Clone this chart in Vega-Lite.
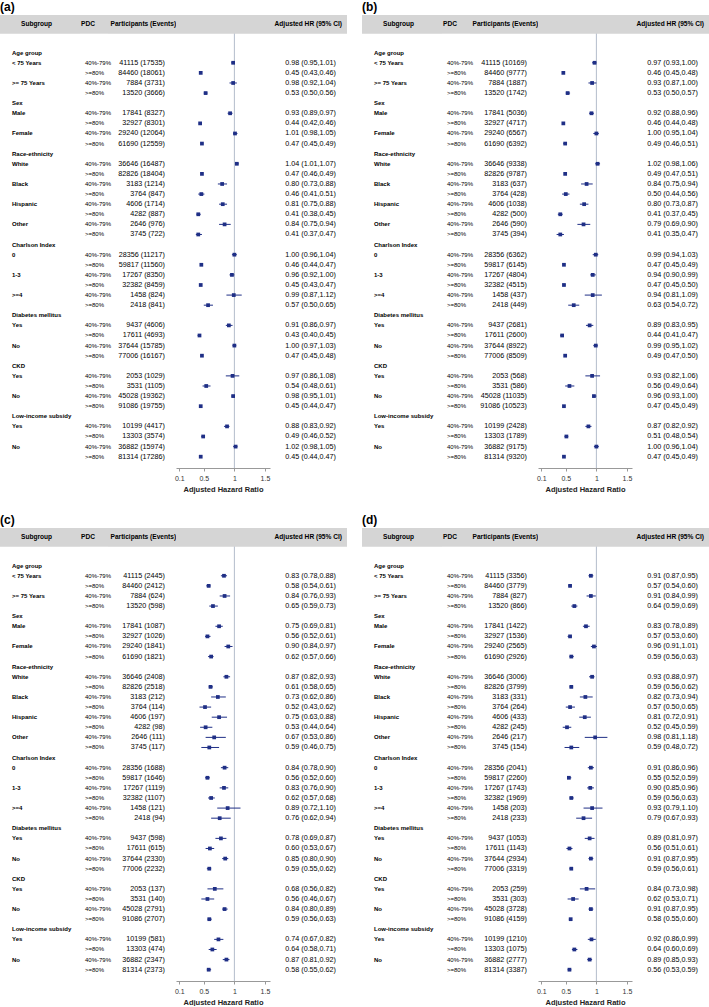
{
"$schema":"https://vega.github.io/schema/vega-lite/v6.json",
"padding":0,
"background":"white",
"spacing":20,
"datasets":{
"one":[{}],
"cats":[{"row":1,"label":"Age group"},{"row":6,"label":"Sex"},{"row":11,"label":"Race-ethnicity"},{"row":20,"label":"Charlson Index"},{"row":27,"label":"Diabetes mellitus"},{"row":32,"label":"CKD"},{"row":37,"label":"Low-income subsidy"}],
"lab":[
{"row":2,"sub":"< 75 Years","pdc":"40%-79%"},{"row":3,"sub":"< 75 Years","pdc":">=80%"},
{"row":4,"sub":">= 75 Years","pdc":"40%-79%"},{"row":5,"sub":">= 75 Years","pdc":">=80%"},
{"row":7,"sub":"Male","pdc":"40%-79%"},{"row":8,"sub":"Male","pdc":">=80%"},
{"row":9,"sub":"Female","pdc":"40%-79%"},{"row":10,"sub":"Female","pdc":">=80%"},
{"row":12,"sub":"White","pdc":"40%-79%"},{"row":13,"sub":"White","pdc":">=80%"},
{"row":14,"sub":"Black","pdc":"40%-79%"},{"row":15,"sub":"Black","pdc":">=80%"},
{"row":16,"sub":"Hispanic","pdc":"40%-79%"},{"row":17,"sub":"Hispanic","pdc":">=80%"},
{"row":18,"sub":"Other","pdc":"40%-79%"},{"row":19,"sub":"Other","pdc":">=80%"},
{"row":21,"sub":"0","pdc":"40%-79%"},{"row":22,"sub":"0","pdc":">=80%"},
{"row":23,"sub":"1-3","pdc":"40%-79%"},{"row":24,"sub":"1-3","pdc":">=80%"},
{"row":25,"sub":">=4","pdc":"40%-79%"},{"row":26,"sub":">=4","pdc":">=80%"},
{"row":28,"sub":"Yes","pdc":"40%-79%"},{"row":29,"sub":"Yes","pdc":">=80%"},
{"row":30,"sub":"No","pdc":"40%-79%"},{"row":31,"sub":"No","pdc":">=80%"},
{"row":33,"sub":"Yes","pdc":"40%-79%"},{"row":34,"sub":"Yes","pdc":">=80%"},
{"row":35,"sub":"No","pdc":"40%-79%"},{"row":36,"sub":"No","pdc":">=80%"},
{"row":38,"sub":"Yes","pdc":"40%-79%"},{"row":39,"sub":"Yes","pdc":">=80%"},
{"row":40,"sub":"No","pdc":"40%-79%"},{"row":41,"sub":"No","pdc":">=80%"}],
"a":[
{"row":2,"n":"41115 (17535)","hr":0.98,"lo":0.95,"hi":1.01,"ci":"0.98 (0.95,1.01)"},
{"row":3,"n":"84460 (18061)","hr":0.45,"lo":0.43,"hi":0.46,"ci":"0.45 (0.43,0.46)"},
{"row":4,"n":"7884 (3731)","hr":0.98,"lo":0.92,"hi":1.04,"ci":"0.98 (0.92,1.04)"},
{"row":5,"n":"13520 (3666)","hr":0.53,"lo":0.50,"hi":0.56,"ci":"0.53 (0.50,0.56)"},
{"row":7,"n":"17841 (8327)","hr":0.93,"lo":0.89,"hi":0.97,"ci":"0.93 (0.89,0.97)"},
{"row":8,"n":"32927 (8301)","hr":0.44,"lo":0.42,"hi":0.46,"ci":"0.44 (0.42,0.46)"},
{"row":9,"n":"29240 (12064)","hr":1.01,"lo":0.98,"hi":1.05,"ci":"1.01 (0.98,1.05)"},
{"row":10,"n":"61690 (12559)","hr":0.47,"lo":0.45,"hi":0.49,"ci":"0.47 (0.45,0.49)"},
{"row":12,"n":"36646 (16487)","hr":1.04,"lo":1.01,"hi":1.07,"ci":"1.04 (1.01,1.07)"},
{"row":13,"n":"82826 (18404)","hr":0.47,"lo":0.46,"hi":0.49,"ci":"0.47 (0.46,0.49)"},
{"row":14,"n":"3183 (1214)","hr":0.80,"lo":0.73,"hi":0.88,"ci":"0.80 (0.73,0.88)"},
{"row":15,"n":"3764 (847)","hr":0.46,"lo":0.41,"hi":0.51,"ci":"0.46 (0.41,0.51)"},
{"row":16,"n":"4606 (1714)","hr":0.81,"lo":0.75,"hi":0.88,"ci":"0.81 (0.75,0.88)"},
{"row":17,"n":"4282 (887)","hr":0.41,"lo":0.38,"hi":0.45,"ci":"0.41 (0.38,0.45)"},
{"row":18,"n":"2646 (976)","hr":0.84,"lo":0.75,"hi":0.94,"ci":"0.84 (0.75,0.94)"},
{"row":19,"n":"3745 (722)","hr":0.41,"lo":0.37,"hi":0.47,"ci":"0.41 (0.37,0.47)"},
{"row":21,"n":"28356 (11217)","hr":1.00,"lo":0.96,"hi":1.04,"ci":"1.00 (0.96,1.04)"},
{"row":22,"n":"59817 (11560)","hr":0.46,"lo":0.44,"hi":0.47,"ci":"0.46 (0.44,0.47)"},
{"row":23,"n":"17267 (8350)","hr":0.96,"lo":0.92,"hi":1.00,"ci":"0.96 (0.92,1.00)"},
{"row":24,"n":"32382 (8459)","hr":0.45,"lo":0.43,"hi":0.47,"ci":"0.45 (0.43,0.47)"},
{"row":25,"n":"1458 (824)","hr":0.99,"lo":0.87,"hi":1.12,"ci":"0.99 (0.87,1.12)"},
{"row":26,"n":"2418 (841)","hr":0.57,"lo":0.50,"hi":0.65,"ci":"0.57 (0.50,0.65)"},
{"row":28,"n":"9437 (4606)","hr":0.91,"lo":0.86,"hi":0.97,"ci":"0.91 (0.86,0.97)"},
{"row":29,"n":"17611 (4693)","hr":0.43,"lo":0.40,"hi":0.45,"ci":"0.43 (0.40,0.45)"},
{"row":30,"n":"37644 (15785)","hr":1.00,"lo":0.97,"hi":1.03,"ci":"1.00 (0.97,1.03)"},
{"row":31,"n":"77006 (16167)","hr":0.47,"lo":0.45,"hi":0.48,"ci":"0.47 (0.45,0.48)"},
{"row":33,"n":"2053 (1029)","hr":0.97,"lo":0.86,"hi":1.08,"ci":"0.97 (0.86,1.08)"},
{"row":34,"n":"3531 (1105)","hr":0.54,"lo":0.48,"hi":0.61,"ci":"0.54 (0.48,0.61)"},
{"row":35,"n":"45028 (19362)","hr":0.98,"lo":0.95,"hi":1.01,"ci":"0.98 (0.95,1.01)"},
{"row":36,"n":"91086 (19755)","hr":0.45,"lo":0.44,"hi":0.47,"ci":"0.45 (0.44,0.47)"},
{"row":38,"n":"10199 (4417)","hr":0.88,"lo":0.83,"hi":0.92,"ci":"0.88 (0.83,0.92)"},
{"row":39,"n":"13303 (3574)","hr":0.49,"lo":0.46,"hi":0.52,"ci":"0.49 (0.46,0.52)"},
{"row":40,"n":"36882 (15974)","hr":1.02,"lo":0.98,"hi":1.05,"ci":"1.02 (0.98,1.05)"},
{"row":41,"n":"81314 (17286)","hr":0.45,"lo":0.44,"hi":0.47,"ci":"0.45 (0.44,0.47)"}],
"b":[
{"row":2,"n":"41115 (10169)","hr":0.97,"lo":0.93,"hi":1.00,"ci":"0.97 (0.93,1.00)"},
{"row":3,"n":"84460 (9777)","hr":0.46,"lo":0.45,"hi":0.48,"ci":"0.46 (0.45,0.48)"},
{"row":4,"n":"7884 (1887)","hr":0.93,"lo":0.87,"hi":1.00,"ci":"0.93 (0.87,1.00)"},
{"row":5,"n":"13520 (1742)","hr":0.53,"lo":0.50,"hi":0.57,"ci":"0.53 (0.50,0.57)"},
{"row":7,"n":"17841 (5036)","hr":0.92,"lo":0.88,"hi":0.96,"ci":"0.92 (0.88,0.96)"},
{"row":8,"n":"32927 (4717)","hr":0.46,"lo":0.44,"hi":0.48,"ci":"0.46 (0.44,0.48)"},
{"row":9,"n":"29240 (6567)","hr":1.00,"lo":0.95,"hi":1.04,"ci":"1.00 (0.95,1.04)"},
{"row":10,"n":"61690 (6392)","hr":0.49,"lo":0.46,"hi":0.51,"ci":"0.49 (0.46,0.51)"},
{"row":12,"n":"36646 (9338)","hr":1.02,"lo":0.98,"hi":1.06,"ci":"1.02 (0.98,1.06)"},
{"row":13,"n":"82826 (9787)","hr":0.49,"lo":0.47,"hi":0.51,"ci":"0.49 (0.47,0.51)"},
{"row":14,"n":"3183 (637)","hr":0.84,"lo":0.75,"hi":0.94,"ci":"0.84 (0.75,0.94)"},
{"row":15,"n":"3764 (428)","hr":0.50,"lo":0.44,"hi":0.56,"ci":"0.50 (0.44,0.56)"},
{"row":16,"n":"4606 (1038)","hr":0.80,"lo":0.73,"hi":0.87,"ci":"0.80 (0.73,0.87)"},
{"row":17,"n":"4282 (500)","hr":0.41,"lo":0.37,"hi":0.45,"ci":"0.41 (0.37,0.45)"},
{"row":18,"n":"2646 (590)","hr":0.79,"lo":0.69,"hi":0.90,"ci":"0.79 (0.69,0.90)"},
{"row":19,"n":"3745 (394)","hr":0.41,"lo":0.35,"hi":0.47,"ci":"0.41 (0.35,0.47)"},
{"row":21,"n":"28356 (6362)","hr":0.99,"lo":0.94,"hi":1.03,"ci":"0.99 (0.94,1.03)"},
{"row":22,"n":"59817 (6145)","hr":0.47,"lo":0.45,"hi":0.49,"ci":"0.47 (0.45,0.49)"},
{"row":23,"n":"17267 (4804)","hr":0.94,"lo":0.90,"hi":0.99,"ci":"0.94 (0.90,0.99)"},
{"row":24,"n":"32382 (4515)","hr":0.47,"lo":0.45,"hi":0.50,"ci":"0.47 (0.45,0.50)"},
{"row":25,"n":"1458 (437)","hr":0.94,"lo":0.81,"hi":1.09,"ci":"0.94 (0.81,1.09)"},
{"row":26,"n":"2418 (449)","hr":0.63,"lo":0.54,"hi":0.72,"ci":"0.63 (0.54,0.72)"},
{"row":28,"n":"9437 (2681)","hr":0.89,"lo":0.83,"hi":0.95,"ci":"0.89 (0.83,0.95)"},
{"row":29,"n":"17611 (2600)","hr":0.44,"lo":0.41,"hi":0.47,"ci":"0.44 (0.41,0.47)"},
{"row":30,"n":"37644 (8922)","hr":0.99,"lo":0.95,"hi":1.02,"ci":"0.99 (0.95,1.02)"},
{"row":31,"n":"77006 (8509)","hr":0.49,"lo":0.47,"hi":0.50,"ci":"0.49 (0.47,0.50)"},
{"row":33,"n":"2053 (568)","hr":0.93,"lo":0.82,"hi":1.06,"ci":"0.93 (0.82,1.06)"},
{"row":34,"n":"3531 (586)","hr":0.56,"lo":0.49,"hi":0.64,"ci":"0.56 (0.49,0.64)"},
{"row":35,"n":"45028 (11035)","hr":0.96,"lo":0.93,"hi":1.00,"ci":"0.96 (0.93,1.00)"},
{"row":36,"n":"91086 (10523)","hr":0.47,"lo":0.45,"hi":0.49,"ci":"0.47 (0.45,0.49)"},
{"row":38,"n":"10199 (2428)","hr":0.87,"lo":0.82,"hi":0.92,"ci":"0.87 (0.82,0.92)"},
{"row":39,"n":"13303 (1789)","hr":0.51,"lo":0.48,"hi":0.54,"ci":"0.51 (0.48,0.54)"},
{"row":40,"n":"36882 (9175)","hr":1.00,"lo":0.96,"hi":1.04,"ci":"1.00 (0.96,1.04)"},
{"row":41,"n":"81314 (9320)","hr":0.47,"lo":0.45,"hi":0.49,"ci":"0.47 (0.45,0.49)"}],
"c":[
{"row":2,"n":"41115 (2445)","hr":0.83,"lo":0.78,"hi":0.88,"ci":"0.83 (0.78,0.88)"},
{"row":3,"n":"84460 (2412)","hr":0.58,"lo":0.54,"hi":0.61,"ci":"0.58 (0.54,0.61)"},
{"row":4,"n":"7884 (624)","hr":0.84,"lo":0.76,"hi":0.93,"ci":"0.84 (0.76,0.93)"},
{"row":5,"n":"13520 (598)","hr":0.65,"lo":0.59,"hi":0.73,"ci":"0.65 (0.59,0.73)"},
{"row":7,"n":"17841 (1087)","hr":0.75,"lo":0.69,"hi":0.81,"ci":"0.75 (0.69,0.81)"},
{"row":8,"n":"32927 (1026)","hr":0.56,"lo":0.52,"hi":0.61,"ci":"0.56 (0.52,0.61)"},
{"row":9,"n":"29240 (1841)","hr":0.90,"lo":0.84,"hi":0.97,"ci":"0.90 (0.84,0.97)"},
{"row":10,"n":"61690 (1821)","hr":0.62,"lo":0.57,"hi":0.66,"ci":"0.62 (0.57,0.66)"},
{"row":12,"n":"36646 (2408)","hr":0.87,"lo":0.82,"hi":0.93,"ci":"0.87 (0.82,0.93)"},
{"row":13,"n":"82826 (2518)","hr":0.61,"lo":0.58,"hi":0.65,"ci":"0.61 (0.58,0.65)"},
{"row":14,"n":"3183 (212)","hr":0.73,"lo":0.62,"hi":0.86,"ci":"0.73 (0.62,0.86)"},
{"row":15,"n":"3764 (114)","hr":0.52,"lo":0.43,"hi":0.62,"ci":"0.52 (0.43,0.62)"},
{"row":16,"n":"4606 (197)","hr":0.75,"lo":0.63,"hi":0.88,"ci":"0.75 (0.63,0.88)"},
{"row":17,"n":"4282 (98)","hr":0.53,"lo":0.44,"hi":0.64,"ci":"0.53 (0.44,0.64)"},
{"row":18,"n":"2646 (111)","hr":0.67,"lo":0.53,"hi":0.86,"ci":"0.67 (0.53,0.86)"},
{"row":19,"n":"3745 (117)","hr":0.59,"lo":0.46,"hi":0.75,"ci":"0.59 (0.46,0.75)"},
{"row":21,"n":"28356 (1688)","hr":0.84,"lo":0.78,"hi":0.90,"ci":"0.84 (0.78,0.90)"},
{"row":22,"n":"59817 (1646)","hr":0.56,"lo":0.52,"hi":0.60,"ci":"0.56 (0.52,0.60)"},
{"row":23,"n":"17267 (1119)","hr":0.83,"lo":0.76,"hi":0.90,"ci":"0.83 (0.76,0.90)"},
{"row":24,"n":"32382 (1107)","hr":0.62,"lo":0.57,"hi":0.68,"ci":"0.62 (0.57,0.68)"},
{"row":25,"n":"1458 (121)","hr":0.89,"lo":0.72,"hi":1.10,"ci":"0.89 (0.72,1.10)"},
{"row":26,"n":"2418 (94)","hr":0.76,"lo":0.62,"hi":0.94,"ci":"0.76 (0.62,0.94)"},
{"row":28,"n":"9437 (598)","hr":0.78,"lo":0.69,"hi":0.87,"ci":"0.78 (0.69,0.87)"},
{"row":29,"n":"17611 (615)","hr":0.60,"lo":0.53,"hi":0.67,"ci":"0.60 (0.53,0.67)"},
{"row":30,"n":"37644 (2330)","hr":0.85,"lo":0.80,"hi":0.90,"ci":"0.85 (0.80,0.90)"},
{"row":31,"n":"77006 (2232)","hr":0.59,"lo":0.55,"hi":0.62,"ci":"0.59 (0.55,0.62)"},
{"row":33,"n":"2053 (137)","hr":0.68,"lo":0.56,"hi":0.82,"ci":"0.68 (0.56,0.82)"},
{"row":34,"n":"3531 (140)","hr":0.56,"lo":0.46,"hi":0.67,"ci":"0.56 (0.46,0.67)"},
{"row":35,"n":"45028 (2791)","hr":0.84,"lo":0.80,"hi":0.89,"ci":"0.84 (0.80,0.89)"},
{"row":36,"n":"91086 (2707)","hr":0.59,"lo":0.56,"hi":0.63,"ci":"0.59 (0.56,0.63)"},
{"row":38,"n":"10199 (581)","hr":0.74,"lo":0.67,"hi":0.82,"ci":"0.74 (0.67,0.82)"},
{"row":39,"n":"13303 (474)","hr":0.64,"lo":0.58,"hi":0.71,"ci":"0.64 (0.58,0.71)"},
{"row":40,"n":"36882 (2347)","hr":0.87,"lo":0.81,"hi":0.92,"ci":"0.87 (0.81,0.92)"},
{"row":41,"n":"81314 (2373)","hr":0.58,"lo":0.55,"hi":0.62,"ci":"0.58 (0.55,0.62)"}],
"d":[
{"row":2,"n":"41115 (3356)","hr":0.91,"lo":0.87,"hi":0.95,"ci":"0.91 (0.87,0.95)"},
{"row":3,"n":"84460 (3779)","hr":0.57,"lo":0.54,"hi":0.60,"ci":"0.57 (0.54,0.60)"},
{"row":4,"n":"7884 (827)","hr":0.91,"lo":0.84,"hi":0.99,"ci":"0.91 (0.84,0.99)"},
{"row":5,"n":"13520 (866)","hr":0.64,"lo":0.59,"hi":0.69,"ci":"0.64 (0.59,0.69)"},
{"row":7,"n":"17841 (1422)","hr":0.83,"lo":0.78,"hi":0.89,"ci":"0.83 (0.78,0.89)"},
{"row":8,"n":"32927 (1536)","hr":0.57,"lo":0.53,"hi":0.60,"ci":"0.57 (0.53,0.60)"},
{"row":9,"n":"29240 (2565)","hr":0.96,"lo":0.91,"hi":1.01,"ci":"0.96 (0.91,1.01)"},
{"row":10,"n":"61690 (2926)","hr":0.59,"lo":0.56,"hi":0.63,"ci":"0.59 (0.56,0.63)"},
{"row":12,"n":"36646 (3006)","hr":0.93,"lo":0.88,"hi":0.97,"ci":"0.93 (0.88,0.97)"},
{"row":13,"n":"82826 (3799)","hr":0.59,"lo":0.56,"hi":0.62,"ci":"0.59 (0.56,0.62)"},
{"row":14,"n":"3183 (331)","hr":0.82,"lo":0.73,"hi":0.94,"ci":"0.82 (0.73,0.94)"},
{"row":15,"n":"3764 (264)","hr":0.57,"lo":0.50,"hi":0.65,"ci":"0.57 (0.50,0.65)"},
{"row":16,"n":"4606 (433)","hr":0.81,"lo":0.72,"hi":0.91,"ci":"0.81 (0.72,0.91)"},
{"row":17,"n":"4282 (245)","hr":0.52,"lo":0.45,"hi":0.59,"ci":"0.52 (0.45,0.59)"},
{"row":18,"n":"2646 (217)","hr":0.98,"lo":0.81,"hi":1.18,"ci":"0.98 (0.81,1.18)"},
{"row":19,"n":"3745 (154)","hr":0.59,"lo":0.48,"hi":0.72,"ci":"0.59 (0.48,0.72)"},
{"row":21,"n":"28356 (2041)","hr":0.91,"lo":0.86,"hi":0.96,"ci":"0.91 (0.86,0.96)"},
{"row":22,"n":"59817 (2260)","hr":0.55,"lo":0.52,"hi":0.59,"ci":"0.55 (0.52,0.59)"},
{"row":23,"n":"17267 (1743)","hr":0.90,"lo":0.85,"hi":0.96,"ci":"0.90 (0.85,0.96)"},
{"row":24,"n":"32382 (1969)","hr":0.59,"lo":0.56,"hi":0.63,"ci":"0.59 (0.56,0.63)"},
{"row":25,"n":"1458 (203)","hr":0.93,"lo":0.79,"hi":1.10,"ci":"0.93 (0.79,1.10)"},
{"row":26,"n":"2418 (233)","hr":0.79,"lo":0.67,"hi":0.93,"ci":"0.79 (0.67,0.93)"},
{"row":28,"n":"9437 (1053)","hr":0.89,"lo":0.81,"hi":0.97,"ci":"0.89 (0.81,0.97)"},
{"row":29,"n":"17611 (1143)","hr":0.56,"lo":0.51,"hi":0.61,"ci":"0.56 (0.51,0.61)"},
{"row":30,"n":"37644 (2934)","hr":0.91,"lo":0.87,"hi":0.95,"ci":"0.91 (0.87,0.95)"},
{"row":31,"n":"77006 (3319)","hr":0.59,"lo":0.56,"hi":0.61,"ci":"0.59 (0.56,0.61)"},
{"row":33,"n":"2053 (259)","hr":0.84,"lo":0.73,"hi":0.98,"ci":"0.84 (0.73,0.98)"},
{"row":34,"n":"3531 (303)","hr":0.62,"lo":0.53,"hi":0.71,"ci":"0.62 (0.53,0.71)"},
{"row":35,"n":"45028 (3728)","hr":0.91,"lo":0.87,"hi":0.95,"ci":"0.91 (0.87,0.95)"},
{"row":36,"n":"91086 (4159)","hr":0.58,"lo":0.55,"hi":0.60,"ci":"0.58 (0.55,0.60)"},
{"row":38,"n":"10199 (1210)","hr":0.92,"lo":0.86,"hi":0.99,"ci":"0.92 (0.86,0.99)"},
{"row":39,"n":"13303 (1075)","hr":0.64,"lo":0.60,"hi":0.69,"ci":"0.64 (0.60,0.69)"},
{"row":40,"n":"36882 (2777)","hr":0.89,"lo":0.85,"hi":0.93,"ci":"0.89 (0.85,0.93)"},
{"row":41,"n":"81314 (3387)","hr":0.56,"lo":0.53,"hi":0.59,"ci":"0.56 (0.53,0.59)"}]
},
"vconcat":[
{"spacing":15,"hconcat":[
{"title":{"text":"(a)","anchor":"start","fontSize":12,"fontWeight":"bold","offset":1,"color":"#000"},"spacing":0,"bounds":"flush","hconcat":[
{"width":80,"height":453,"layer":[
{"data":{"name":"one"},"mark":{"type":"rect","color":"#d5d5d5"},"encoding":{"x":{"datum":0,"type":"quantitative","scale":{"domain":[0,1],"nice":false,"zero":false},"axis":null},"x2":{"datum":1},"y":{"datum":-2.73,"type":"quantitative","scale":{"domain":[-2.73,42.12],"reverse":true,"nice":false,"zero":false},"axis":null},"y2":{"datum":-0.88}}},
{"data":{"name":"one"},"mark":{"type":"text","style":"hdr","align":"left","dx":21,"text":"Subgroup"},"encoding":{"x":{"datum":0,"type":"quantitative","scale":{"domain":[0,1],"nice":false,"zero":false},"axis":null},"y":{"datum":-1.8,"type":"quantitative","scale":{"domain":[-2.73,42.12],"reverse":true,"nice":false,"zero":false},"axis":null}}},
{"data":{"name":"cats"},"mark":{"type":"text","style":"lab","dx":12},"encoding":{"x":{"datum":0,"type":"quantitative","scale":{"domain":[0,1],"nice":false,"zero":false},"axis":null},"y":{"field":"row","type":"quantitative","scale":{"domain":[-2.73,42.12],"reverse":true,"nice":false,"zero":false},"axis":null},"text":{"field":"label"}}},
{"data":{"name":"lab"},"transform":[{"filter":"datum.pdc === '40%-79%'"}],"mark":{"type":"text","style":"lab","dx":12},"encoding":{"x":{"datum":0,"type":"quantitative","scale":{"domain":[0,1],"nice":false,"zero":false},"axis":null},"y":{"field":"row","type":"quantitative","scale":{"domain":[-2.73,42.12],"reverse":true,"nice":false,"zero":false},"axis":null},"text":{"field":"sub"}}}]},
{"width":28,"height":453,"layer":[
{"data":{"name":"one"},"mark":{"type":"rect","color":"#d5d5d5"},"encoding":{"x":{"datum":0,"type":"quantitative","scale":{"domain":[0,1],"nice":false,"zero":false},"axis":null},"x2":{"datum":1},"y":{"datum":-2.73,"type":"quantitative","scale":{"domain":[-2.73,42.12],"reverse":true,"nice":false,"zero":false},"axis":null},"y2":{"datum":-0.88}}},
{"data":{"name":"one"},"mark":{"type":"text","style":"hdr","align":"left","dx":1,"text":"PDC"},"encoding":{"x":{"datum":0,"type":"quantitative","scale":{"domain":[0,1],"nice":false,"zero":false},"axis":null},"y":{"datum":-1.8,"type":"quantitative","scale":{"domain":[-2.73,42.12],"reverse":true,"nice":false,"zero":false},"axis":null}}},
{"data":{"name":"lab"},"mark":{"type":"text","style":"pdc","dx":5},"encoding":{"x":{"datum":0,"type":"quantitative","scale":{"domain":[0,1],"nice":false,"zero":false},"axis":null},"y":{"field":"row","type":"quantitative","scale":{"domain":[-2.73,42.12],"reverse":true,"nice":false,"zero":false},"axis":null},"text":{"field":"pdc"}}}]},
{"width":68,"height":453,"layer":[
{"data":{"name":"one"},"mark":{"type":"rect","color":"#d5d5d5"},"encoding":{"x":{"datum":0,"type":"quantitative","scale":{"domain":[0,1],"nice":false,"zero":false},"axis":null},"x2":{"datum":1},"y":{"datum":-2.73,"type":"quantitative","scale":{"domain":[-2.73,42.12],"reverse":true,"nice":false,"zero":false},"axis":null},"y2":{"datum":-0.88}}},
{"data":{"name":"one"},"mark":{"type":"text","style":"hdr","align":"left","dx":2.5,"text":"Participants (Events)"},"encoding":{"x":{"datum":0,"type":"quantitative","scale":{"domain":[0,1],"nice":false,"zero":false},"axis":null},"y":{"datum":-1.8,"type":"quantitative","scale":{"domain":[-2.73,42.12],"reverse":true,"nice":false,"zero":false},"axis":null}}},
{"data":{"name":"a"},"mark":{"type":"text","style":"num","align":"right","dx":-11},"encoding":{"x":{"datum":1,"type":"quantitative","scale":{"domain":[0,1],"nice":false,"zero":false},"axis":null},"y":{"field":"row","type":"quantitative","scale":{"domain":[-2.73,42.12],"reverse":true,"nice":false,"zero":false},"axis":null},"text":{"field":"n"}}}]},
{"width":94,"height":453,"layer":[
{"data":{"name":"one"},"mark":{"type":"rule","color":"#b3bccb","strokeWidth":1},"encoding":{"x":{"datum":1,"type":"quantitative","scale":{"domain":[0.046,1.582],"nice":false,"zero":false},"axis":{"values":[0.1,0.5,1,1.5],"labelExpr":"datum.value == 1 ? '1' : format(datum.value, '.1f')","title":"Adjusted Hazard Ratio"}},"y":{"datum":-2.73,"type":"quantitative","scale":{"domain":[-2.73,42.12],"reverse":true,"nice":false,"zero":false},"axis":null},"y2":{"datum":42.12}}},
{"data":{"name":"one"},"mark":{"type":"rect","color":"#d5d5d5"},"encoding":{"x":{"datum":0.046,"type":"quantitative","scale":{"domain":[0.046,1.582],"nice":false,"zero":false},"axis":{"values":[0.1,0.5,1,1.5],"labelExpr":"datum.value == 1 ? '1' : format(datum.value, '.1f')","title":"Adjusted Hazard Ratio"}},"x2":{"datum":1.582},"y":{"datum":-2.73,"type":"quantitative","scale":{"domain":[-2.73,42.12],"reverse":true,"nice":false,"zero":false},"axis":null},"y2":{"datum":-0.88}}},
{"data":{"name":"a"},"mark":{"type":"rule","color":"#1f2f86","strokeWidth":1},"encoding":{"x":{"field":"lo","type":"quantitative","scale":{"domain":[0.046,1.582],"nice":false,"zero":false},"axis":{"values":[0.1,0.5,1,1.5],"labelExpr":"datum.value == 1 ? '1' : format(datum.value, '.1f')","title":"Adjusted Hazard Ratio"}},"x2":{"field":"hi"},"y":{"field":"row","type":"quantitative","scale":{"domain":[-2.73,42.12],"reverse":true,"nice":false,"zero":false},"axis":null}}},
{"data":{"name":"a"},"mark":{"type":"point","shape":"square","filled":true,"size":14,"color":"#1f2f86","opacity":1},"encoding":{"x":{"field":"hr","type":"quantitative","scale":{"domain":[0.046,1.582],"nice":false,"zero":false},"axis":{"values":[0.1,0.5,1,1.5],"labelExpr":"datum.value == 1 ? '1' : format(datum.value, '.1f')","title":"Adjusted Hazard Ratio"}},"y":{"field":"row","type":"quantitative","scale":{"domain":[-2.73,42.12],"reverse":true,"nice":false,"zero":false},"axis":null}}}]},
{"width":77,"height":453,"layer":[
{"data":{"name":"one"},"mark":{"type":"rect","color":"#d5d5d5"},"encoding":{"x":{"datum":0,"type":"quantitative","scale":{"domain":[0,1],"nice":false,"zero":false},"axis":null},"x2":{"datum":1},"y":{"datum":-2.73,"type":"quantitative","scale":{"domain":[-2.73,42.12],"reverse":true,"nice":false,"zero":false},"axis":null},"y2":{"datum":-0.88}}},
{"data":{"name":"one"},"mark":{"type":"text","style":"hdr","align":"right","dx":-5,"text":"Adjusted HR (95% CI)"},"encoding":{"x":{"datum":1,"type":"quantitative","scale":{"domain":[0,1],"nice":false,"zero":false},"axis":null},"y":{"datum":-1.8,"type":"quantitative","scale":{"domain":[-2.73,42.12],"reverse":true,"nice":false,"zero":false},"axis":null}}},
{"data":{"name":"a"},"mark":{"type":"text","style":"num","align":"right","dx":-11},"encoding":{"x":{"datum":1,"type":"quantitative","scale":{"domain":[0,1],"nice":false,"zero":false},"axis":null},"y":{"field":"row","type":"quantitative","scale":{"domain":[-2.73,42.12],"reverse":true,"nice":false,"zero":false},"axis":null},"text":{"field":"ci"}}}]}
]},
{"title":{"text":"(b)","anchor":"start","fontSize":12,"fontWeight":"bold","offset":1,"color":"#000"},"spacing":0,"bounds":"flush","hconcat":[
{"width":80,"height":453,"layer":[
{"data":{"name":"one"},"mark":{"type":"rect","color":"#d5d5d5"},"encoding":{"x":{"datum":0,"type":"quantitative","scale":{"domain":[0,1],"nice":false,"zero":false},"axis":null},"x2":{"datum":1},"y":{"datum":-2.73,"type":"quantitative","scale":{"domain":[-2.73,42.12],"reverse":true,"nice":false,"zero":false},"axis":null},"y2":{"datum":-0.88}}},
{"data":{"name":"one"},"mark":{"type":"text","style":"hdr","align":"left","dx":21,"text":"Subgroup"},"encoding":{"x":{"datum":0,"type":"quantitative","scale":{"domain":[0,1],"nice":false,"zero":false},"axis":null},"y":{"datum":-1.8,"type":"quantitative","scale":{"domain":[-2.73,42.12],"reverse":true,"nice":false,"zero":false},"axis":null}}},
{"data":{"name":"cats"},"mark":{"type":"text","style":"lab","dx":12},"encoding":{"x":{"datum":0,"type":"quantitative","scale":{"domain":[0,1],"nice":false,"zero":false},"axis":null},"y":{"field":"row","type":"quantitative","scale":{"domain":[-2.73,42.12],"reverse":true,"nice":false,"zero":false},"axis":null},"text":{"field":"label"}}},
{"data":{"name":"lab"},"transform":[{"filter":"datum.pdc === '40%-79%'"}],"mark":{"type":"text","style":"lab","dx":12},"encoding":{"x":{"datum":0,"type":"quantitative","scale":{"domain":[0,1],"nice":false,"zero":false},"axis":null},"y":{"field":"row","type":"quantitative","scale":{"domain":[-2.73,42.12],"reverse":true,"nice":false,"zero":false},"axis":null},"text":{"field":"sub"}}}]},
{"width":28,"height":453,"layer":[
{"data":{"name":"one"},"mark":{"type":"rect","color":"#d5d5d5"},"encoding":{"x":{"datum":0,"type":"quantitative","scale":{"domain":[0,1],"nice":false,"zero":false},"axis":null},"x2":{"datum":1},"y":{"datum":-2.73,"type":"quantitative","scale":{"domain":[-2.73,42.12],"reverse":true,"nice":false,"zero":false},"axis":null},"y2":{"datum":-0.88}}},
{"data":{"name":"one"},"mark":{"type":"text","style":"hdr","align":"left","dx":1,"text":"PDC"},"encoding":{"x":{"datum":0,"type":"quantitative","scale":{"domain":[0,1],"nice":false,"zero":false},"axis":null},"y":{"datum":-1.8,"type":"quantitative","scale":{"domain":[-2.73,42.12],"reverse":true,"nice":false,"zero":false},"axis":null}}},
{"data":{"name":"lab"},"mark":{"type":"text","style":"pdc","dx":5},"encoding":{"x":{"datum":0,"type":"quantitative","scale":{"domain":[0,1],"nice":false,"zero":false},"axis":null},"y":{"field":"row","type":"quantitative","scale":{"domain":[-2.73,42.12],"reverse":true,"nice":false,"zero":false},"axis":null},"text":{"field":"pdc"}}}]},
{"width":68,"height":453,"layer":[
{"data":{"name":"one"},"mark":{"type":"rect","color":"#d5d5d5"},"encoding":{"x":{"datum":0,"type":"quantitative","scale":{"domain":[0,1],"nice":false,"zero":false},"axis":null},"x2":{"datum":1},"y":{"datum":-2.73,"type":"quantitative","scale":{"domain":[-2.73,42.12],"reverse":true,"nice":false,"zero":false},"axis":null},"y2":{"datum":-0.88}}},
{"data":{"name":"one"},"mark":{"type":"text","style":"hdr","align":"left","dx":2.5,"text":"Participants (Events)"},"encoding":{"x":{"datum":0,"type":"quantitative","scale":{"domain":[0,1],"nice":false,"zero":false},"axis":null},"y":{"datum":-1.8,"type":"quantitative","scale":{"domain":[-2.73,42.12],"reverse":true,"nice":false,"zero":false},"axis":null}}},
{"data":{"name":"b"},"mark":{"type":"text","style":"num","align":"right","dx":-11},"encoding":{"x":{"datum":1,"type":"quantitative","scale":{"domain":[0,1],"nice":false,"zero":false},"axis":null},"y":{"field":"row","type":"quantitative","scale":{"domain":[-2.73,42.12],"reverse":true,"nice":false,"zero":false},"axis":null},"text":{"field":"n"}}}]},
{"width":94,"height":453,"layer":[
{"data":{"name":"one"},"mark":{"type":"rule","color":"#b3bccb","strokeWidth":1},"encoding":{"x":{"datum":1,"type":"quantitative","scale":{"domain":[0.046,1.582],"nice":false,"zero":false},"axis":{"values":[0.1,0.5,1,1.5],"labelExpr":"datum.value == 1 ? '1' : format(datum.value, '.1f')","title":"Adjusted Hazard Ratio"}},"y":{"datum":-2.73,"type":"quantitative","scale":{"domain":[-2.73,42.12],"reverse":true,"nice":false,"zero":false},"axis":null},"y2":{"datum":42.12}}},
{"data":{"name":"one"},"mark":{"type":"rect","color":"#d5d5d5"},"encoding":{"x":{"datum":0.046,"type":"quantitative","scale":{"domain":[0.046,1.582],"nice":false,"zero":false},"axis":{"values":[0.1,0.5,1,1.5],"labelExpr":"datum.value == 1 ? '1' : format(datum.value, '.1f')","title":"Adjusted Hazard Ratio"}},"x2":{"datum":1.582},"y":{"datum":-2.73,"type":"quantitative","scale":{"domain":[-2.73,42.12],"reverse":true,"nice":false,"zero":false},"axis":null},"y2":{"datum":-0.88}}},
{"data":{"name":"b"},"mark":{"type":"rule","color":"#1f2f86","strokeWidth":1},"encoding":{"x":{"field":"lo","type":"quantitative","scale":{"domain":[0.046,1.582],"nice":false,"zero":false},"axis":{"values":[0.1,0.5,1,1.5],"labelExpr":"datum.value == 1 ? '1' : format(datum.value, '.1f')","title":"Adjusted Hazard Ratio"}},"x2":{"field":"hi"},"y":{"field":"row","type":"quantitative","scale":{"domain":[-2.73,42.12],"reverse":true,"nice":false,"zero":false},"axis":null}}},
{"data":{"name":"b"},"mark":{"type":"point","shape":"square","filled":true,"size":14,"color":"#1f2f86","opacity":1},"encoding":{"x":{"field":"hr","type":"quantitative","scale":{"domain":[0.046,1.582],"nice":false,"zero":false},"axis":{"values":[0.1,0.5,1,1.5],"labelExpr":"datum.value == 1 ? '1' : format(datum.value, '.1f')","title":"Adjusted Hazard Ratio"}},"y":{"field":"row","type":"quantitative","scale":{"domain":[-2.73,42.12],"reverse":true,"nice":false,"zero":false},"axis":null}}}]},
{"width":77,"height":453,"layer":[
{"data":{"name":"one"},"mark":{"type":"rect","color":"#d5d5d5"},"encoding":{"x":{"datum":0,"type":"quantitative","scale":{"domain":[0,1],"nice":false,"zero":false},"axis":null},"x2":{"datum":1},"y":{"datum":-2.73,"type":"quantitative","scale":{"domain":[-2.73,42.12],"reverse":true,"nice":false,"zero":false},"axis":null},"y2":{"datum":-0.88}}},
{"data":{"name":"one"},"mark":{"type":"text","style":"hdr","align":"right","dx":-5,"text":"Adjusted HR (95% CI)"},"encoding":{"x":{"datum":1,"type":"quantitative","scale":{"domain":[0,1],"nice":false,"zero":false},"axis":null},"y":{"datum":-1.8,"type":"quantitative","scale":{"domain":[-2.73,42.12],"reverse":true,"nice":false,"zero":false},"axis":null}}},
{"data":{"name":"b"},"mark":{"type":"text","style":"num","align":"right","dx":-11},"encoding":{"x":{"datum":1,"type":"quantitative","scale":{"domain":[0,1],"nice":false,"zero":false},"axis":null},"y":{"field":"row","type":"quantitative","scale":{"domain":[-2.73,42.12],"reverse":true,"nice":false,"zero":false},"axis":null},"text":{"field":"ci"}}}]}
]}
]},
{"spacing":15,"hconcat":[
{"title":{"text":"(c)","anchor":"start","fontSize":12,"fontWeight":"bold","offset":1,"color":"#000"},"spacing":0,"bounds":"flush","hconcat":[
{"width":80,"height":453,"layer":[
{"data":{"name":"one"},"mark":{"type":"rect","color":"#d5d5d5"},"encoding":{"x":{"datum":0,"type":"quantitative","scale":{"domain":[0,1],"nice":false,"zero":false},"axis":null},"x2":{"datum":1},"y":{"datum":-2.73,"type":"quantitative","scale":{"domain":[-2.73,42.12],"reverse":true,"nice":false,"zero":false},"axis":null},"y2":{"datum":-0.88}}},
{"data":{"name":"one"},"mark":{"type":"text","style":"hdr","align":"left","dx":21,"text":"Subgroup"},"encoding":{"x":{"datum":0,"type":"quantitative","scale":{"domain":[0,1],"nice":false,"zero":false},"axis":null},"y":{"datum":-1.8,"type":"quantitative","scale":{"domain":[-2.73,42.12],"reverse":true,"nice":false,"zero":false},"axis":null}}},
{"data":{"name":"cats"},"mark":{"type":"text","style":"lab","dx":12},"encoding":{"x":{"datum":0,"type":"quantitative","scale":{"domain":[0,1],"nice":false,"zero":false},"axis":null},"y":{"field":"row","type":"quantitative","scale":{"domain":[-2.73,42.12],"reverse":true,"nice":false,"zero":false},"axis":null},"text":{"field":"label"}}},
{"data":{"name":"lab"},"transform":[{"filter":"datum.pdc === '40%-79%'"}],"mark":{"type":"text","style":"lab","dx":12},"encoding":{"x":{"datum":0,"type":"quantitative","scale":{"domain":[0,1],"nice":false,"zero":false},"axis":null},"y":{"field":"row","type":"quantitative","scale":{"domain":[-2.73,42.12],"reverse":true,"nice":false,"zero":false},"axis":null},"text":{"field":"sub"}}}]},
{"width":28,"height":453,"layer":[
{"data":{"name":"one"},"mark":{"type":"rect","color":"#d5d5d5"},"encoding":{"x":{"datum":0,"type":"quantitative","scale":{"domain":[0,1],"nice":false,"zero":false},"axis":null},"x2":{"datum":1},"y":{"datum":-2.73,"type":"quantitative","scale":{"domain":[-2.73,42.12],"reverse":true,"nice":false,"zero":false},"axis":null},"y2":{"datum":-0.88}}},
{"data":{"name":"one"},"mark":{"type":"text","style":"hdr","align":"left","dx":1,"text":"PDC"},"encoding":{"x":{"datum":0,"type":"quantitative","scale":{"domain":[0,1],"nice":false,"zero":false},"axis":null},"y":{"datum":-1.8,"type":"quantitative","scale":{"domain":[-2.73,42.12],"reverse":true,"nice":false,"zero":false},"axis":null}}},
{"data":{"name":"lab"},"mark":{"type":"text","style":"pdc","dx":5},"encoding":{"x":{"datum":0,"type":"quantitative","scale":{"domain":[0,1],"nice":false,"zero":false},"axis":null},"y":{"field":"row","type":"quantitative","scale":{"domain":[-2.73,42.12],"reverse":true,"nice":false,"zero":false},"axis":null},"text":{"field":"pdc"}}}]},
{"width":68,"height":453,"layer":[
{"data":{"name":"one"},"mark":{"type":"rect","color":"#d5d5d5"},"encoding":{"x":{"datum":0,"type":"quantitative","scale":{"domain":[0,1],"nice":false,"zero":false},"axis":null},"x2":{"datum":1},"y":{"datum":-2.73,"type":"quantitative","scale":{"domain":[-2.73,42.12],"reverse":true,"nice":false,"zero":false},"axis":null},"y2":{"datum":-0.88}}},
{"data":{"name":"one"},"mark":{"type":"text","style":"hdr","align":"left","dx":2.5,"text":"Participants (Events)"},"encoding":{"x":{"datum":0,"type":"quantitative","scale":{"domain":[0,1],"nice":false,"zero":false},"axis":null},"y":{"datum":-1.8,"type":"quantitative","scale":{"domain":[-2.73,42.12],"reverse":true,"nice":false,"zero":false},"axis":null}}},
{"data":{"name":"c"},"mark":{"type":"text","style":"num","align":"right","dx":-11},"encoding":{"x":{"datum":1,"type":"quantitative","scale":{"domain":[0,1],"nice":false,"zero":false},"axis":null},"y":{"field":"row","type":"quantitative","scale":{"domain":[-2.73,42.12],"reverse":true,"nice":false,"zero":false},"axis":null},"text":{"field":"n"}}}]},
{"width":94,"height":453,"layer":[
{"data":{"name":"one"},"mark":{"type":"rule","color":"#b3bccb","strokeWidth":1},"encoding":{"x":{"datum":1,"type":"quantitative","scale":{"domain":[0.046,1.582],"nice":false,"zero":false},"axis":{"values":[0.1,0.5,1,1.5],"labelExpr":"datum.value == 1 ? '1' : format(datum.value, '.1f')","title":"Adjusted Hazard Ratio"}},"y":{"datum":-2.73,"type":"quantitative","scale":{"domain":[-2.73,42.12],"reverse":true,"nice":false,"zero":false},"axis":null},"y2":{"datum":42.12}}},
{"data":{"name":"one"},"mark":{"type":"rect","color":"#d5d5d5"},"encoding":{"x":{"datum":0.046,"type":"quantitative","scale":{"domain":[0.046,1.582],"nice":false,"zero":false},"axis":{"values":[0.1,0.5,1,1.5],"labelExpr":"datum.value == 1 ? '1' : format(datum.value, '.1f')","title":"Adjusted Hazard Ratio"}},"x2":{"datum":1.582},"y":{"datum":-2.73,"type":"quantitative","scale":{"domain":[-2.73,42.12],"reverse":true,"nice":false,"zero":false},"axis":null},"y2":{"datum":-0.88}}},
{"data":{"name":"c"},"mark":{"type":"rule","color":"#1f2f86","strokeWidth":1},"encoding":{"x":{"field":"lo","type":"quantitative","scale":{"domain":[0.046,1.582],"nice":false,"zero":false},"axis":{"values":[0.1,0.5,1,1.5],"labelExpr":"datum.value == 1 ? '1' : format(datum.value, '.1f')","title":"Adjusted Hazard Ratio"}},"x2":{"field":"hi"},"y":{"field":"row","type":"quantitative","scale":{"domain":[-2.73,42.12],"reverse":true,"nice":false,"zero":false},"axis":null}}},
{"data":{"name":"c"},"mark":{"type":"point","shape":"square","filled":true,"size":14,"color":"#1f2f86","opacity":1},"encoding":{"x":{"field":"hr","type":"quantitative","scale":{"domain":[0.046,1.582],"nice":false,"zero":false},"axis":{"values":[0.1,0.5,1,1.5],"labelExpr":"datum.value == 1 ? '1' : format(datum.value, '.1f')","title":"Adjusted Hazard Ratio"}},"y":{"field":"row","type":"quantitative","scale":{"domain":[-2.73,42.12],"reverse":true,"nice":false,"zero":false},"axis":null}}}]},
{"width":77,"height":453,"layer":[
{"data":{"name":"one"},"mark":{"type":"rect","color":"#d5d5d5"},"encoding":{"x":{"datum":0,"type":"quantitative","scale":{"domain":[0,1],"nice":false,"zero":false},"axis":null},"x2":{"datum":1},"y":{"datum":-2.73,"type":"quantitative","scale":{"domain":[-2.73,42.12],"reverse":true,"nice":false,"zero":false},"axis":null},"y2":{"datum":-0.88}}},
{"data":{"name":"one"},"mark":{"type":"text","style":"hdr","align":"right","dx":-5,"text":"Adjusted HR (95% CI)"},"encoding":{"x":{"datum":1,"type":"quantitative","scale":{"domain":[0,1],"nice":false,"zero":false},"axis":null},"y":{"datum":-1.8,"type":"quantitative","scale":{"domain":[-2.73,42.12],"reverse":true,"nice":false,"zero":false},"axis":null}}},
{"data":{"name":"c"},"mark":{"type":"text","style":"num","align":"right","dx":-11},"encoding":{"x":{"datum":1,"type":"quantitative","scale":{"domain":[0,1],"nice":false,"zero":false},"axis":null},"y":{"field":"row","type":"quantitative","scale":{"domain":[-2.73,42.12],"reverse":true,"nice":false,"zero":false},"axis":null},"text":{"field":"ci"}}}]}
]},
{"title":{"text":"(d)","anchor":"start","fontSize":12,"fontWeight":"bold","offset":1,"color":"#000"},"spacing":0,"bounds":"flush","hconcat":[
{"width":80,"height":453,"layer":[
{"data":{"name":"one"},"mark":{"type":"rect","color":"#d5d5d5"},"encoding":{"x":{"datum":0,"type":"quantitative","scale":{"domain":[0,1],"nice":false,"zero":false},"axis":null},"x2":{"datum":1},"y":{"datum":-2.73,"type":"quantitative","scale":{"domain":[-2.73,42.12],"reverse":true,"nice":false,"zero":false},"axis":null},"y2":{"datum":-0.88}}},
{"data":{"name":"one"},"mark":{"type":"text","style":"hdr","align":"left","dx":21,"text":"Subgroup"},"encoding":{"x":{"datum":0,"type":"quantitative","scale":{"domain":[0,1],"nice":false,"zero":false},"axis":null},"y":{"datum":-1.8,"type":"quantitative","scale":{"domain":[-2.73,42.12],"reverse":true,"nice":false,"zero":false},"axis":null}}},
{"data":{"name":"cats"},"mark":{"type":"text","style":"lab","dx":12},"encoding":{"x":{"datum":0,"type":"quantitative","scale":{"domain":[0,1],"nice":false,"zero":false},"axis":null},"y":{"field":"row","type":"quantitative","scale":{"domain":[-2.73,42.12],"reverse":true,"nice":false,"zero":false},"axis":null},"text":{"field":"label"}}},
{"data":{"name":"lab"},"transform":[{"filter":"datum.pdc === '40%-79%'"}],"mark":{"type":"text","style":"lab","dx":12},"encoding":{"x":{"datum":0,"type":"quantitative","scale":{"domain":[0,1],"nice":false,"zero":false},"axis":null},"y":{"field":"row","type":"quantitative","scale":{"domain":[-2.73,42.12],"reverse":true,"nice":false,"zero":false},"axis":null},"text":{"field":"sub"}}}]},
{"width":28,"height":453,"layer":[
{"data":{"name":"one"},"mark":{"type":"rect","color":"#d5d5d5"},"encoding":{"x":{"datum":0,"type":"quantitative","scale":{"domain":[0,1],"nice":false,"zero":false},"axis":null},"x2":{"datum":1},"y":{"datum":-2.73,"type":"quantitative","scale":{"domain":[-2.73,42.12],"reverse":true,"nice":false,"zero":false},"axis":null},"y2":{"datum":-0.88}}},
{"data":{"name":"one"},"mark":{"type":"text","style":"hdr","align":"left","dx":1,"text":"PDC"},"encoding":{"x":{"datum":0,"type":"quantitative","scale":{"domain":[0,1],"nice":false,"zero":false},"axis":null},"y":{"datum":-1.8,"type":"quantitative","scale":{"domain":[-2.73,42.12],"reverse":true,"nice":false,"zero":false},"axis":null}}},
{"data":{"name":"lab"},"mark":{"type":"text","style":"pdc","dx":5},"encoding":{"x":{"datum":0,"type":"quantitative","scale":{"domain":[0,1],"nice":false,"zero":false},"axis":null},"y":{"field":"row","type":"quantitative","scale":{"domain":[-2.73,42.12],"reverse":true,"nice":false,"zero":false},"axis":null},"text":{"field":"pdc"}}}]},
{"width":68,"height":453,"layer":[
{"data":{"name":"one"},"mark":{"type":"rect","color":"#d5d5d5"},"encoding":{"x":{"datum":0,"type":"quantitative","scale":{"domain":[0,1],"nice":false,"zero":false},"axis":null},"x2":{"datum":1},"y":{"datum":-2.73,"type":"quantitative","scale":{"domain":[-2.73,42.12],"reverse":true,"nice":false,"zero":false},"axis":null},"y2":{"datum":-0.88}}},
{"data":{"name":"one"},"mark":{"type":"text","style":"hdr","align":"left","dx":2.5,"text":"Participants (Events)"},"encoding":{"x":{"datum":0,"type":"quantitative","scale":{"domain":[0,1],"nice":false,"zero":false},"axis":null},"y":{"datum":-1.8,"type":"quantitative","scale":{"domain":[-2.73,42.12],"reverse":true,"nice":false,"zero":false},"axis":null}}},
{"data":{"name":"d"},"mark":{"type":"text","style":"num","align":"right","dx":-11},"encoding":{"x":{"datum":1,"type":"quantitative","scale":{"domain":[0,1],"nice":false,"zero":false},"axis":null},"y":{"field":"row","type":"quantitative","scale":{"domain":[-2.73,42.12],"reverse":true,"nice":false,"zero":false},"axis":null},"text":{"field":"n"}}}]},
{"width":94,"height":453,"layer":[
{"data":{"name":"one"},"mark":{"type":"rule","color":"#b3bccb","strokeWidth":1},"encoding":{"x":{"datum":1,"type":"quantitative","scale":{"domain":[0.046,1.582],"nice":false,"zero":false},"axis":{"values":[0.1,0.5,1,1.5],"labelExpr":"datum.value == 1 ? '1' : format(datum.value, '.1f')","title":"Adjusted Hazard Ratio"}},"y":{"datum":-2.73,"type":"quantitative","scale":{"domain":[-2.73,42.12],"reverse":true,"nice":false,"zero":false},"axis":null},"y2":{"datum":42.12}}},
{"data":{"name":"one"},"mark":{"type":"rect","color":"#d5d5d5"},"encoding":{"x":{"datum":0.046,"type":"quantitative","scale":{"domain":[0.046,1.582],"nice":false,"zero":false},"axis":{"values":[0.1,0.5,1,1.5],"labelExpr":"datum.value == 1 ? '1' : format(datum.value, '.1f')","title":"Adjusted Hazard Ratio"}},"x2":{"datum":1.582},"y":{"datum":-2.73,"type":"quantitative","scale":{"domain":[-2.73,42.12],"reverse":true,"nice":false,"zero":false},"axis":null},"y2":{"datum":-0.88}}},
{"data":{"name":"d"},"mark":{"type":"rule","color":"#1f2f86","strokeWidth":1},"encoding":{"x":{"field":"lo","type":"quantitative","scale":{"domain":[0.046,1.582],"nice":false,"zero":false},"axis":{"values":[0.1,0.5,1,1.5],"labelExpr":"datum.value == 1 ? '1' : format(datum.value, '.1f')","title":"Adjusted Hazard Ratio"}},"x2":{"field":"hi"},"y":{"field":"row","type":"quantitative","scale":{"domain":[-2.73,42.12],"reverse":true,"nice":false,"zero":false},"axis":null}}},
{"data":{"name":"d"},"mark":{"type":"point","shape":"square","filled":true,"size":14,"color":"#1f2f86","opacity":1},"encoding":{"x":{"field":"hr","type":"quantitative","scale":{"domain":[0.046,1.582],"nice":false,"zero":false},"axis":{"values":[0.1,0.5,1,1.5],"labelExpr":"datum.value == 1 ? '1' : format(datum.value, '.1f')","title":"Adjusted Hazard Ratio"}},"y":{"field":"row","type":"quantitative","scale":{"domain":[-2.73,42.12],"reverse":true,"nice":false,"zero":false},"axis":null}}}]},
{"width":77,"height":453,"layer":[
{"data":{"name":"one"},"mark":{"type":"rect","color":"#d5d5d5"},"encoding":{"x":{"datum":0,"type":"quantitative","scale":{"domain":[0,1],"nice":false,"zero":false},"axis":null},"x2":{"datum":1},"y":{"datum":-2.73,"type":"quantitative","scale":{"domain":[-2.73,42.12],"reverse":true,"nice":false,"zero":false},"axis":null},"y2":{"datum":-0.88}}},
{"data":{"name":"one"},"mark":{"type":"text","style":"hdr","align":"right","dx":-5,"text":"Adjusted HR (95% CI)"},"encoding":{"x":{"datum":1,"type":"quantitative","scale":{"domain":[0,1],"nice":false,"zero":false},"axis":null},"y":{"datum":-1.8,"type":"quantitative","scale":{"domain":[-2.73,42.12],"reverse":true,"nice":false,"zero":false},"axis":null}}},
{"data":{"name":"d"},"mark":{"type":"text","style":"num","align":"right","dx":-11},"encoding":{"x":{"datum":1,"type":"quantitative","scale":{"domain":[0,1],"nice":false,"zero":false},"axis":null},"y":{"field":"row","type":"quantitative","scale":{"domain":[-2.73,42.12],"reverse":true,"nice":false,"zero":false},"axis":null},"text":{"field":"ci"}}}]}
]}
]}
],
"config":{
"font":"Liberation Sans",
"view":{"stroke":null},
"axisX":{"grid":false,"labelOverlap":false,"labelFlush":false,"labelBound":false,"domainColor":"#999999","tickColor":"#999999","tickSize":3,"labelFontSize":7,"labelColor":"#333333","labelPadding":3,"titleFontSize":7.5,"titleFontWeight":"bold","titleColor":"#222222","titlePadding":4},
"style":{
"hdr":{"fontSize":6.6,"fontWeight":"bold","baseline":"middle","fill":"#1a1a1a"},
"lab":{"fontSize":6,"fontWeight":"bold","baseline":"middle","align":"left","fill":"#1a1a1a"},
"pdc":{"fontSize":6,"baseline":"middle","align":"left","fill":"#666666"},
"num":{"fontSize":7.2,"baseline":"middle","fill":"#333333"}
}
}
}
